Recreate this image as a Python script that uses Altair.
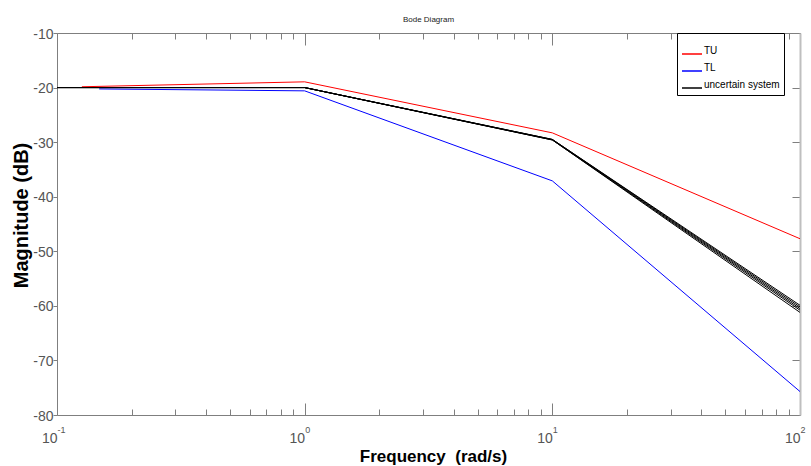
import json
import altair as alt
import pandas as pd

# ---------------- data ----------------
tu_freq = [0.126, 1.0, 10.0, 100.0]
tu_mag = [-19.85, -18.95, -28.3, -47.7]

tl_freq = [0.148, 1.0, 10.0, 100.0]
tl_mag = [-20.25, -20.6, -37.1, -75.7]

unc_freq = [0.1, 1.0, 10.0, 100.0]
unc_mag_1 = [-20.0, -20.0, -29.5, -59.9]
unc_mag_2 = [-20.0, -20.0, -29.5, -60.2]
unc_mag_3 = [-20.0, -20.0, -29.55, -60.5]
unc_mag_4 = [-20.0, -20.0, -29.6, -60.8]
unc_mag_5 = [-20.0, -20.0, -29.6, -61.2]

series_names = ["TU", "TL", "uncertain system"]
series_colors = ["#ff0000", "#0000ff", "#000000"]
legend_labels = ["\u00a0\u00a0TU", "\u00a0\u00a0\u00a0TL", "uncertain system" + "\u00a0" * 6]

x_major = [0.1, 1, 10, 100]
x_base_label = "10"
x_exponents = ["-1", "0", "1", "2"]
x_minor = [0.2, 0.3, 0.4, 0.5, 0.6, 0.7, 0.8, 0.9,
           2, 3, 4, 5, 6, 7, 8, 9,
           20, 30, 40, 50, 60, 70, 80, 90]
y_ticks = [-80, -70, -60, -50, -40, -30, -20, -10]

title_text = "Bode Diagram"
x_title = "Frequency\u00a0 (rad/s)"
y_title = "Magnitude (dB)"

# ---------------- table ----------------
rows = []
for f, m in zip(tu_freq, tu_mag):
    rows.append({"freq": f, "mag": m, "series": "TU", "curve": "TU"})
for f, m in zip(tl_freq, tl_mag):
    rows.append({"freq": f, "mag": m, "series": "TL", "curve": "TL"})
for i, mags in enumerate([unc_mag_1, unc_mag_2, unc_mag_3, unc_mag_4, unc_mag_5]):
    for f, m in zip(unc_freq, mags):
        rows.append({"freq": f, "mag": m, "series": "uncertain system", "curve": f"U{i}"})
df = pd.DataFrame(rows)

W, H = 743, 382
FONT = "Liberation Sans"
LABEL_COLOR = "#555555"
AX_COLOR = "#7f7f7f"

xs = alt.Scale(type="log", domain=[0.1, 100], nice=False)
ys = alt.Scale(domain=[-80, -10], nice=False)

exp_expr = f"{json.dumps(x_exponents)}[round(log(datum.value)/LN10)+1]"
leg_expr = (f"{json.dumps(legend_labels, ensure_ascii=False)}"
            f"[indexof({json.dumps(series_names)}, datum.label)]")


def invisible(x_axis, y_axis):
    return alt.Chart(df).mark_line(strokeOpacity=0).encode(
        x=alt.X("freq:Q", scale=xs, axis=x_axis),
        y=alt.Y("mag:Q", scale=ys, axis=y_axis),
        detail="curve:N",
    )


tick_common = dict(labels=False, grid=False, title=None, tickColor=AX_COLOR, tickWidth=1)

# bottom, inward (major / minor)
bottom_major = invisible(
    alt.Axis(orient="top", offset=-H, values=x_major, tickSize=12, domain=False, **tick_common),
    None)
bottom_minor = invisible(
    alt.Axis(orient="top", offset=-H, values=x_minor, tickSize=6, domain=False, **tick_common),
    None)
# top, inward (major / minor) + frame line
top_major = invisible(
    alt.Axis(orient="bottom", offset=-H, values=x_major, tickSize=12, domain=True,
             domainColor=AX_COLOR, **tick_common),
    None)
top_minor = invisible(
    alt.Axis(orient="bottom", offset=-H, values=x_minor, tickSize=6, domain=False, **tick_common),
    None)
# right, inward + frame line
right_ticks = invisible(
    None,
    alt.Axis(orient="left", offset=-W, values=y_ticks, tickSize=8, domain=True,
             domainColor="#bfbfbf", domainWidth=2, **tick_common))
# exponents of x labels
exponents = invisible(
    alt.Axis(orient="bottom", values=x_major, labelExpr=exp_expr, ticks=False, tickSize=0,
             domain=False, grid=False, title=None, labelFont=FONT, labelFontSize=9,
             labelColor=LABEL_COLOR, labelAlign="left", labelBaseline="alphabetic",
             labelPadding=17, labelFlush=False, labelOverlap=False),
    None)

lines = alt.Chart(df).mark_line(strokeWidth=1).encode(
    x=alt.X("freq:Q", scale=xs,
            axis=alt.Axis(orient="bottom", values=x_major, labelExpr=f"'{x_base_label}'",
                          ticks=False, tickSize=0, domain=True, domainColor=AX_COLOR,
                          grid=False, labelFont=FONT, labelFontSize=14,
                          labelColor=LABEL_COLOR, labelAlign="right",
                          labelBaseline="alphabetic", labelPadding=27, labelFlush=False,
                          labelOverlap=False, title=x_title, titleFont=FONT,
                          titleFontSize=17, titleFontWeight="bold", titleColor="black",
                          titleX=376, titleY=46, titleBaseline="alphabetic",
                          titleAlign="center")),
    y=alt.Y("mag:Q", scale=ys,
            axis=alt.Axis(orient="left", values=y_ticks, labelExpr="'' + datum.value",
                          tickSize=4, tickColor=AX_COLOR,
                          domain=True, domainColor=AX_COLOR, grid=False, labelFont=FONT,
                          labelFontSize=14, labelColor=LABEL_COLOR, labelPadding=0,
                          labelBaseline="middle", labelOffset=1, labelFlush=False,
                          title=y_title, titleFont=FONT,
                          titleFontSize=20, titleFontWeight="bold", titleColor="black",
                          titleX=-30, titleY=182, titleAngle=270,
                          titleBaseline="alphabetic", titleAlign="center")),
    color=alt.Color("series:N",
                    scale=alt.Scale(domain=series_names, range=series_colors),
                    legend=alt.Legend(orient="none", legendX=620, legendY=0,
                                      title="\u00a0", titleFontSize=6, titlePadding=0,
                                      strokeColor="black", fillColor="white", padding=4,
                                      cornerRadius=0, symbolType="stroke", symbolSize=400,
                                      symbolStrokeWidth=1.5, labelFont=FONT,
                                      labelFontSize=10, labelColor="black", labelOffset=1,
                                      labelBaseline="alphabetic", rowPadding=3,
                                      labelExpr=leg_expr)),
    detail="curve:N",
)

chart = alt.layer(
    bottom_major, bottom_minor, top_major, top_minor, right_ticks, exponents, lines
).resolve_axis(
    x="independent", y="independent"
).properties(
    width=W,
    height=H,
    title=alt.TitleParams(title_text, fontSize=8, font=FONT, fontWeight="normal",
                          color="#222222", anchor="middle", offset=12, frame="group",
                          baseline="alphabetic", dy=15),
    padding={"left": 57, "top": 33, "right": 11, "bottom": 51},
    autosize=alt.AutoSizeParams(type="none"),
).configure_view(strokeWidth=0)

chart.save("out.html", embed_options={"renderer": "svg", "actions": False})
